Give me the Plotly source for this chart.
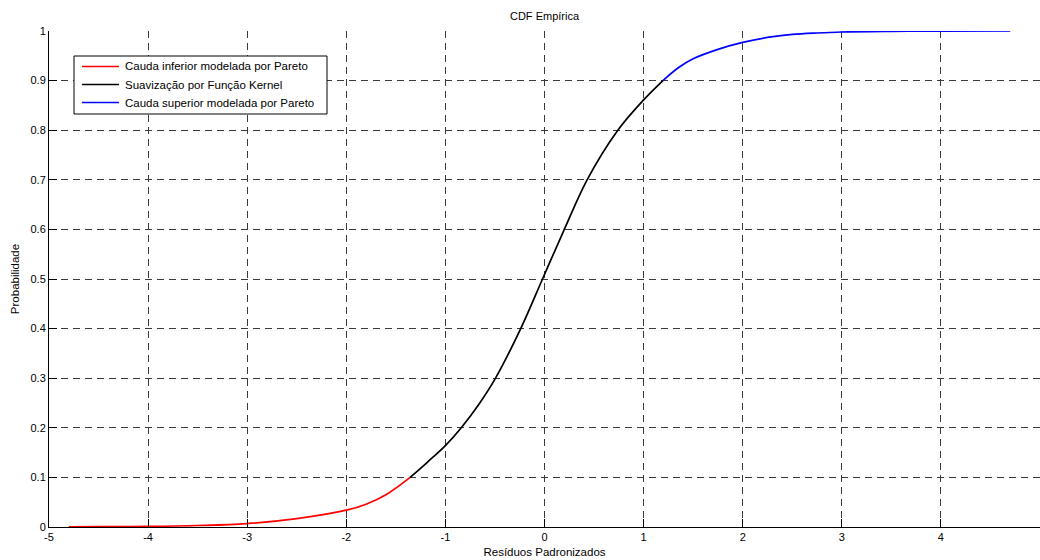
import plotly.graph_objects as go

# Lower tail (generalized Pareto fit)
lower_x = [-4.80, -4.50, -4.00, -3.50, -3.00, -2.50, -2.00, -1.80, -1.60, -1.356]
lower_y = [0.0003, 0.0006, 0.0012, 0.003, 0.007, 0.017, 0.034, 0.046, 0.065, 0.100]

# Kernel-smoothed body
body_x = [-1.356, -1.18, -1.00, -0.84, -0.66, -0.50, -0.24, -0.02, 0.20, 0.43, 0.74, 1.00, 1.195]
body_y = [0.100, 0.131, 0.164, 0.200, 0.248, 0.298, 0.400, 0.500, 0.600, 0.700, 0.800, 0.861, 0.900]

# Upper tail (generalized Pareto fit)
upper_x = [1.195, 1.35, 1.50, 1.75, 2.00, 2.25, 2.50, 2.75, 3.00, 3.50, 4.00, 4.70]
upper_y = [0.900, 0.926, 0.944, 0.963, 0.977, 0.987, 0.993, 0.996, 0.998, 0.9993, 0.9998, 1.000]

names = ["Cauda inferior modelada por Pareto",
         "Suavização por Função Kernel",
         "Cauda superior modelada por Pareto"]
colors = ["#ff0000", "#000000", "#0000ff"]

x_ticks = [-5, -4, -3, -2, -1, 0, 1, 2, 3, 4, 5]
x_ticktext = ["-5", "-4", "-3", "-2", "-1", "0", "1", "2", "3", "4", "5"]
y_ticks = [0, 0.1, 0.2, 0.3, 0.4, 0.5, 0.6, 0.7, 0.8, 0.9, 1]
y_ticktext = ["0", "0.1", "0.2", "0.3", "0.4", "0.5", "0.6", "0.7", "0.8", "0.9", "1"]

FONT = "Liberation Sans, Arial, Helvetica, sans-serif"
W, H = 1040, 560
ML, MR, MT, MB = 49, 0, 31, 33
PW, PH = W - ML - MR, H - MT - MB


def px_to_paper(px, py):
    """Pixel position in the page -> paper coordinates of the plot area."""
    return (px - ML) / PW, (H - MB - py) / PH


fig = go.Figure()
for xs, ys, name, col in zip([lower_x, body_x, upper_x],
                             [lower_y, body_y, upper_y], names, colors):
    fig.add_trace(go.Scatter(x=xs, y=ys, mode="lines", name=name, showlegend=False,
                             line=dict(color=col, width=1.7, shape="spline", smoothing=1.0)))

grid = dict(showgrid=True, gridcolor="#3a3a3a", gridwidth=1, griddash="7px,5px",
            zeroline=False, showline=True, linecolor="black", linewidth=1,
            ticks="inside", ticklen=8, tickcolor="black",
            tickfont=dict(family=FONT, size=11, color="black"))

fig.update_xaxes(range=[-5, 5], tickvals=x_ticks, ticktext=x_ticktext, **grid,
                 title=dict(text="Resíduos Padronizados", standoff=5,
                            font=dict(family=FONT, size=11.5, color="black")))
fig.update_yaxes(range=[0, 1], tickvals=y_ticks, ticktext=y_ticktext, **grid,
                 title=dict(text="Probabilidade", standoff=8,
                            font=dict(family=FONT, size=11.5, color="black")))

# Legend box drawn in the upper-left corner of the axes
bx0, by0 = px_to_paper(74, 56)
bx1, by1 = px_to_paper(327, 114)
fig.add_shape(type="rect", xref="paper", yref="paper", x0=bx0, y0=by1, x1=bx1, y1=by0,
              line=dict(color="black", width=1), fillcolor="white", layer="above")
for i, (name, col) in enumerate(zip(names, colors)):
    row_y = 66.5 + 18 * i
    lx0, ly = px_to_paper(82, row_y)
    lx1, _ = px_to_paper(119, row_y)
    tx, _ = px_to_paper(123, row_y)
    fig.add_shape(type="line", xref="paper", yref="paper", x0=lx0, x1=lx1, y0=ly, y1=ly,
                  line=dict(color=col, width=1.7), layer="above")
    fig.add_annotation(xref="paper", yref="paper", x=tx, y=ly, text=name, showarrow=False,
                       xanchor="left", yanchor="middle",
                       font=dict(family=FONT, size=11.5, color="black"))

fig.update_layout(
    width=W, height=H,
    margin=dict(l=ML, r=MR, t=MT, b=MB),
    paper_bgcolor="white", plot_bgcolor="white",
    font=dict(family=FONT, size=11, color="black"),
    title=dict(text="CDF Empírica", x=0.5, xref="paper", xanchor="center",
               y=1 - 16 / H, yref="container", yanchor="middle",
               font=dict(family=FONT, size=11, color="black")),
    showlegend=False,
)

fig.write_html("out.html")
